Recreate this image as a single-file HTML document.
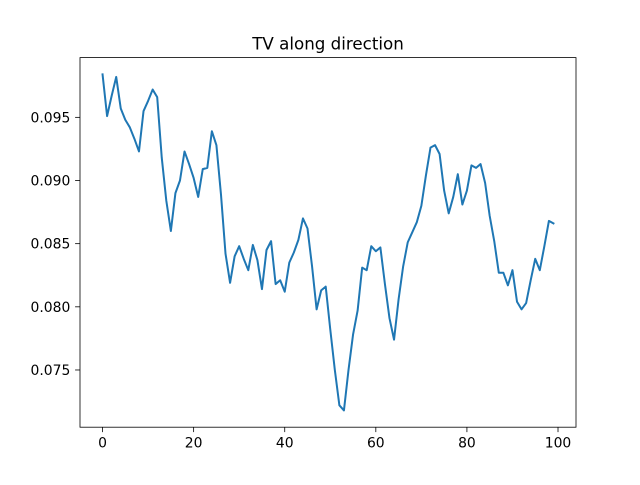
<!DOCTYPE html>
<html><head><meta charset="utf-8"><style>
body{margin:0;background:#fff;}
svg text{font-family:"DejaVu Sans","Liberation Sans",sans-serif;font-size:13.9px;fill:#000;}
</style></head><body>
<svg id="chart" width="640" height="480" viewBox="0 0 640 480" xmlns="http://www.w3.org/2000/svg">
<rect width="640" height="480" fill="#fff"/>
<text x="328" y="49.3" text-anchor="middle" style="font-size:16.7px">TV along direction</text>
<g id="plot"></g>
<rect x="80" y="57.6" width="496" height="369.6" fill="none" stroke="#000" stroke-width="0.8"/>
</svg>
<script>
const xTicks=[0,20,40,60,80,100];
const yTicks=[0.075,0.080,0.085,0.090,0.095];
const yTickLabels=["0.075","0.080","0.085","0.090","0.095"];
const tvValues=[0.0984,0.0951,0.0967,0.0982,0.0957,0.0948,0.0942,0.0933,0.0923,0.0955,
0.0963,0.0972,0.0966,0.0918,0.0884,0.0860,0.0890,0.0900,0.0923,0.0913,
0.0902,0.0887,0.0909,0.0910,0.0939,0.0928,0.0889,0.0842,0.0819,0.0840,
0.0848,0.0838,0.0829,0.0849,0.0837,0.0814,0.0845,0.0852,0.0818,0.0821,
0.0812,0.0835,0.0843,0.0853,0.0870,0.0862,0.0832,0.0798,0.0813,0.0816,
0.0782,0.0750,0.0722,0.0718,0.0750,0.0778,0.0797,0.0831,0.0829,0.0848,
0.0844,0.0847,0.0818,0.0791,0.0774,0.0806,0.0832,0.0851,0.0859,0.0867,
0.0880,0.0904,0.0926,0.0928,0.0921,0.0892,0.0874,0.0887,0.0905,0.0881,
0.0892,0.0912,0.0910,0.0913,0.0898,0.0872,0.0852,0.0827,0.0827,0.0817,
0.0829,0.0804,0.0798,0.0803,0.0821,0.0838,0.0829,0.0848,0.0868,0.0866];

const L=80,R=576,T=57.6,B=427.2;
const n=tvValues.length;
const xm=(n-1)*0.05;
const xMin=-xm,xMax=n-1+xm;
const vMin=Math.min(...tvValues),vMax=Math.max(...tvValues),ym=(vMax-vMin)*0.05;
const yMin=vMin-ym,yMax=vMax+ym;
const sx=v=>L+(v-xMin)/(xMax-xMin)*(R-L);
const sy=v=>B-(v-yMin)/(yMax-yMin)*(B-T);
const NS="http://www.w3.org/2000/svg";
const g=document.getElementById('plot');
function mk(t,a){const e=document.createElementNS(NS,t);for(const k in a)e.setAttribute(k,a[k]);g.appendChild(e);return e;}
xTicks.forEach(t=>{
  const x=sx(t);
  const l=mk('line',{x1:x,x2:x,y1:B,y2:B+4.9,stroke:'#000','stroke-width':0.8});
  
  
  const tx=mk('text',{x:x,y:B+20.5,'text-anchor':'middle'});tx.textContent=String(t);
  
  
});
yTicks.forEach((t,i)=>{
  const y=sy(t);
  const l=mk('line',{x1:L-4.9,x2:L,y1:y,y2:y,stroke:'#000','stroke-width':0.8});
  
  
  const tx=mk('text',{x:L-9.7,y:y+5,'text-anchor':'end'});tx.textContent=yTickLabels[i];
  
  
});
const pts=tvValues.map((v,i)=>sx(i).toFixed(2)+','+sy(v).toFixed(2)).join(' ');
const line=mk('polyline',{points:pts,fill:'none',stroke:'#1f77b4','stroke-width':2,'stroke-linejoin':'round','stroke-linecap':'square'});


</script>
</body></html>
